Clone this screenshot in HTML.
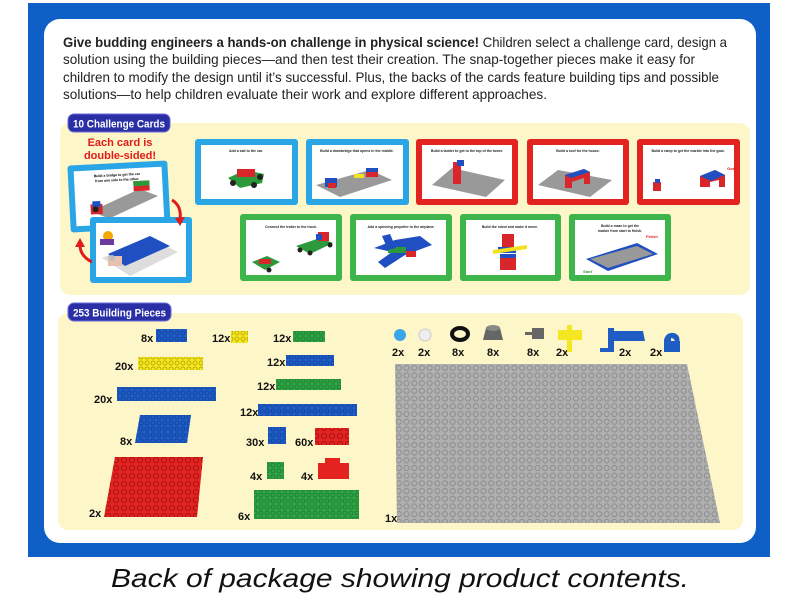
<!DOCTYPE html>
<html><head><meta charset="utf-8"><style>
html,body{margin:0;padding:0;background:#fff;}
svg{display:block;}
text{font-family:"Liberation Sans",sans-serif;}
</style></head><body>
<svg width="800" height="600" viewBox="0 0 800 600" xmlns="http://www.w3.org/2000/svg">
<defs>
<pattern id="stud" width="7.7" height="7.7" patternUnits="userSpaceOnUse" x="395" y="364"><circle cx="3.85" cy="3.85" r="2.6" fill="none" stroke="#8d8d8d" stroke-width="1"/></pattern>
<pattern id="studB" width="6" height="6" patternUnits="userSpaceOnUse"><circle cx="3" cy="3" r="2" fill="none" stroke="#0d3f9a" stroke-width="0.8"/></pattern>
<pattern id="studR" width="8" height="8" patternUnits="userSpaceOnUse"><circle cx="4" cy="4" r="2.6" fill="none" stroke="#a01010" stroke-width="0.9"/></pattern>
<pattern id="studY" width="6" height="6" patternUnits="userSpaceOnUse"><circle cx="3" cy="3" r="2" fill="none" stroke="#b0a000" stroke-width="0.8"/></pattern>
<pattern id="studG" width="6" height="6" patternUnits="userSpaceOnUse"><circle cx="3" cy="3" r="2" fill="none" stroke="#1b7a2b" stroke-width="0.8"/></pattern>
</defs>
<!-- frame -->
<rect x="28" y="3" width="742" height="554" fill="#0e5fc6"/>
<rect x="44" y="19" width="712" height="524" rx="16" fill="#fff"/>
<!-- paragraph -->
<g font-size="14" fill="#222">
<text x="63" y="47" textLength="664" lengthAdjust="spacingAndGlyphs"><tspan font-weight="bold">Give budding engineers a hands-on challenge in physical science!</tspan> Children select a challenge card, design a</text>
<text x="63" y="64" textLength="632" lengthAdjust="spacingAndGlyphs">solution using the building pieces—and then test their creation. The snap-together pieces make it easy for</text>
<text x="63" y="82" textLength="656" lengthAdjust="spacingAndGlyphs">children to modify the design until it’s successful. Plus, the backs of the cards feature building tips and possible</text>
<text x="63" y="99" textLength="484" lengthAdjust="spacingAndGlyphs">solutions—to help children evaluate their work and explore different approaches.</text>
</g>
<!-- panels -->
<rect x="60" y="123" width="690" height="172" rx="10" fill="#fdf6c8"/>
<rect x="58" y="313" width="685" height="217" rx="10" fill="#fdf6c8"/>
<rect x="68" y="114" width="102" height="18" rx="6" fill="#2b2fa6" stroke="#6a6ad8" stroke-width="1"/>
<text x="119" y="127.5" font-size="11" font-weight="bold" fill="#fff" text-anchor="middle" textLength="92" lengthAdjust="spacingAndGlyphs">10 Challenge Cards</text>
<rect x="68" y="303" width="103" height="18" rx="6" fill="#2b2fa6" stroke="#6a6ad8" stroke-width="1"/>
<text x="119.5" y="316.5" font-size="11" font-weight="bold" fill="#fff" text-anchor="middle" textLength="93" lengthAdjust="spacingAndGlyphs">253 Building Pieces</text>
<text x="120" y="146" font-size="11" font-weight="bold" fill="#e01b1b" text-anchor="middle">Each card is</text>
<text x="120" y="159" font-size="11" font-weight="bold" fill="#e01b1b" text-anchor="middle">double-sided!</text>
<!-- cards row1 -->
<g stroke="none">
<rect x="195" y="139" width="103" height="66" rx="3" fill="#2aa6e6"/><rect x="201" y="145" width="91" height="54" fill="#fff"/>
<rect x="306" y="139" width="103" height="66" rx="3" fill="#2aa6e6"/><rect x="312" y="145" width="91" height="54" fill="#fff"/>
<rect x="416" y="139" width="102" height="66" rx="3" fill="#e2231f"/><rect x="422" y="145" width="90" height="54" fill="#fff"/>
<rect x="527" y="139" width="102" height="66" rx="3" fill="#e2231f"/><rect x="533" y="145" width="90" height="54" fill="#fff"/>
<rect x="637" y="139" width="103" height="66" rx="3" fill="#e2231f"/><rect x="643" y="145" width="91" height="54" fill="#fff"/>
<rect x="240" y="214" width="102" height="67" rx="3" fill="#3db54a"/><rect x="246" y="220" width="90" height="55" fill="#fff"/>
<rect x="350" y="214" width="102" height="67" rx="3" fill="#3db54a"/><rect x="356" y="220" width="90" height="55" fill="#fff"/>
<rect x="460" y="214" width="101" height="67" rx="3" fill="#3db54a"/><rect x="466" y="220" width="89" height="55" fill="#fff"/>
<rect x="569" y="214" width="102" height="67" rx="3" fill="#3db54a"/><rect x="575" y="220" width="90" height="55" fill="#fff"/>
</g>
<g font-size="3.5" fill="#222" text-anchor="middle" font-weight="bold">
<text x="246" y="152">Add a sail to the car.</text>
<text x="357" y="152">Build a drawbridge that opens in the middle.</text>
<text x="467" y="152">Build a ladder to get to the top of the tower.</text>
<text x="578" y="152">Build a roof for the house.</text>
<text x="688" y="152">Build a ramp to get the marble into the goal.</text>
<text x="291" y="228">Connect the trailer to the truck.</text>
<text x="401" y="228">Add a spinning propeller to the airplane.</text>
<text x="510" y="228">Build the robot and make it move.</text>
<text x="620" y="227">Build a maze to get the</text>
<text x="620" y="232">marble from start to finish.</text>
</g>
<!-- card illustrations -->
<g>
<path d="M228 178 L245 170 L264 174 L262 183 L240 188 Z" fill="#2c9a3c"/><rect x="237" y="169" width="18" height="8" fill="#d9262b"/>
<circle cx="233" cy="183" r="3" fill="#222"/><circle cx="254" cy="185" r="3" fill="#222"/><circle cx="260" cy="177" r="3" fill="#222"/>
<path d="M316 185 L370 170 L392 180 L340 197 Z" fill="#999"/><rect x="325" y="178" width="12" height="9" fill="#1f4fc0"/><rect x="328" y="183" width="8" height="5" fill="#d9262b"/><rect x="354" y="174" width="10" height="4" fill="#f4e020"/><rect x="366" y="168" width="12" height="9" fill="#d9262b"/><rect x="366" y="168" width="12" height="4" fill="#1f4fc0"/>
<path d="M432 185 L452 168 L505 180 L486 197 Z" fill="#999"/><rect x="453" y="162" width="8" height="22" fill="#d9262b"/><rect x="457" y="160" width="7" height="6" fill="#1f4fc0"/>
<path d="M538 185 L558 170 L612 180 L590 197 Z" fill="#999"/><path d="M565 175 L584 169 L590 172 L590 184 L584 184 L584 178 L572 182 L572 188 L565 188 Z" fill="#d9262b"/><path d="M565 175 L584 169 L590 172 L571 178Z" fill="#1f4fc0"/>
<path d="M700 176 L715 170 L725 175 L725 187 L719 187 L719 180 L710 182 L710 187 L700 187 Z" fill="#d9262b"/><path d="M700 176 L715 170 L725 175 L711 181Z" fill="#1f4fc0"/><rect x="653" y="182" width="8" height="9" fill="#d9262b"/><rect x="655" y="179" width="5" height="4" fill="#1f4fc0"/>
<text x="727" y="170" font-size="4" fill="#e01b1b" font-weight="bold">Goal</text>
<path d="M252 262 L267 256 L280 262 L265 270 Z" fill="#2c9a3c"/><rect x="259" y="259" width="12" height="5" fill="#d9262b"/><circle cx="269" cy="270" r="2.5" fill="#222"/>
<path d="M296 246 L320 238 L333 243 L310 254 Z" fill="#2c9a3c"/><rect x="318" y="232" width="11" height="9" fill="#d9262b"/><rect x="316" y="234" width="6" height="6" fill="#1f4fc0"/><circle cx="300" cy="250" r="2.5" fill="#222"/><circle cx="310" cy="253" r="2.5" fill="#222"/><circle cx="330" cy="245" r="2.5" fill="#222"/>
<path d="M374 248 L395 240 L420 236 L432 245 L405 255 L385 268 L378 262 L392 252 Z" fill="#1f4fc0"/><rect x="388" y="247" width="18" height="6" fill="#2c9a3c"/><rect x="406" y="251" width="10" height="6" fill="#d9262b"/><path d="M382 236 L390 234 L396 248 L388 250Z" fill="#1f4fc0"/>
<rect x="502" y="234" width="12" height="13" fill="#d9262b"/><rect x="498" y="247" width="18" height="6" fill="#1f4fc0"/><path d="M493 250 L527 245 L527 249 L493 254Z" fill="#f4e020"/><rect x="500" y="254" width="16" height="16" fill="#d9262b"/><rect x="500" y="254" width="16" height="4" fill="#1f4fc0"/>
<path d="M586 259 L637 243 L658 254 L608 271 Z" fill="#1f4fc0"/><path d="M590 259 L637 246 L653 254 L608 268 Z" fill="#999"/>
<text x="646" y="238" font-size="4" fill="#e01b1b" font-weight="bold">Finish</text><text x="583" y="273" font-size="4" fill="#2c9a3c" font-weight="bold">Start</text>
</g>
<!-- double sided cards -->
<g transform="rotate(-3 119 196)">
<rect x="69" y="163" width="100" height="67" rx="3" fill="#2aa6e6"/><rect x="75" y="169" width="88" height="55" fill="#fff"/>
<path d="M90 210 L140 190 L158 198 L108 218 Z" fill="#999"/><rect x="134" y="182" width="16" height="10" fill="#d9262b"/><rect x="134" y="182" width="16" height="5" fill="#2c9a3c"/><rect x="90" y="203" width="12" height="10" fill="#d9262b"/><rect x="92" y="200" width="8" height="6" fill="#1f4fc0"/><circle cx="95" cy="208" r="3" fill="#222"/>
<text x="118" y="176" font-size="3.5" text-anchor="middle" font-weight="bold">Build a bridge to get the car</text>
<text x="118" y="181" font-size="3.5" text-anchor="middle" font-weight="bold">from one side to the other.</text>
</g>
<rect x="90" y="217" width="102" height="66" rx="3" fill="#2aa6e6"/><rect x="96" y="223" width="90" height="54" fill="#fff"/>
<path d="M102 258 L150 238 L178 252 L130 276 Z" fill="#ddd"/><path d="M108 254 L150 236 L170 246 L125 266 Z" fill="#1f4fc0"/><rect x="108" y="256" width="14" height="10" fill="#e8c0b0"/><circle cx="112" cy="258" r="3" fill="#bbb"/>
<circle cx="108" cy="236" r="5" fill="#f5a800"/><rect x="100" y="239" width="14" height="6" fill="#6a3aa0"/>
<path d="M172 200 Q182 206 180 220" fill="none" stroke="#e01b1b" stroke-width="3"/><path d="M175 218 L180 226 L185 217 Z" fill="#e01b1b"/>
<path d="M92 262 Q80 256 80 245" fill="none" stroke="#e01b1b" stroke-width="3"/><path d="M75 247 L80 238 L85 247 Z" fill="#e01b1b"/>

<!-- pieces left -->
<g font-size="11" font-weight="bold" fill="#111">
<text x="141" y="342">8x</text><text x="212" y="342">12x</text><text x="273" y="342">12x</text>
<text x="115" y="370">20x</text><text x="267" y="366">12x</text>
<text x="94" y="403">20x</text><text x="257" y="390">12x</text>
<text x="120" y="445">8x</text><text x="240" y="416">12x</text>
<text x="246" y="446">30x</text><text x="295" y="446">60x</text>
<text x="250" y="480">4x</text><text x="301" y="480">4x</text>
<text x="89" y="517">2x</text><text x="238" y="520">6x</text>
<text x="385" y="522">1x</text>
<text x="392" y="356">2x</text><text x="418" y="356">2x</text><text x="452" y="356">8x</text><text x="487" y="356">8x</text><text x="527" y="356">8x</text><text x="556" y="356">2x</text><text x="619" y="356">2x</text><text x="650" y="356">2x</text>
</g>
<g>
<rect x="156" y="329" width="31" height="13" fill="#1f5cc4"/><rect x="156" y="329" width="31" height="13" fill="url(#studB)"/>
<rect x="231" y="331" width="17" height="12" fill="#f4e620"/><rect x="231" y="331" width="17" height="12" fill="url(#studY)"/>
<rect x="293" y="331" width="32" height="11" fill="#2fa245"/><rect x="293" y="331" width="32" height="11" fill="url(#studG)"/>
<rect x="138" y="357" width="65" height="13" fill="#f4e620"/><rect x="138" y="357" width="65" height="13" fill="url(#studY)"/>
<rect x="286" y="355" width="48" height="11" fill="#1f5cc4"/><rect x="286" y="355" width="48" height="11" fill="url(#studB)"/>
<rect x="117" y="387" width="99" height="14" fill="#1f5cc4"/><rect x="117" y="387" width="99" height="14" fill="url(#studB)"/>
<rect x="276" y="379" width="65" height="11" fill="#2fa245"/><rect x="276" y="379" width="65" height="11" fill="url(#studG)"/>
<path d="M140 415 L191 415 L187 443 L135 443 Z" fill="#1f5cc4"/><path d="M140 415 L191 415 L187 443 L135 443 Z" fill="url(#studB)"/>
<rect x="258" y="404" width="99" height="12" fill="#1f5cc4"/><rect x="258" y="404" width="99" height="12" fill="url(#studB)"/>
<rect x="268" y="427" width="18" height="17" fill="#1f5cc4"/><rect x="268" y="427" width="18" height="17" fill="url(#studB)"/>
<rect x="315" y="428" width="34" height="17" fill="#e2231f"/><rect x="315" y="428" width="34" height="17" fill="url(#studR)"/>
<path d="M115 457 L203 457 L197 517 L104 517 Z" fill="#e2231f"/><path d="M115 457 L203 457 L197 517 L104 517 Z" fill="url(#studR)"/>
<rect x="267" y="462" width="17" height="17" fill="#2fa245"/><rect x="267" y="462" width="17" height="17" fill="url(#studG)"/>
<path d="M318 463 L325 463 L325 458 L340 458 L340 463 L349 463 L349 479 L318 479 Z" fill="#e2231f"/>
<rect x="254" y="490" width="105" height="29" fill="#2fa245"/><rect x="254" y="490" width="105" height="29" fill="url(#studG)"/>
</g>
<!-- small items -->
<circle cx="400" cy="335" r="6" fill="#3aa6e8"/><circle cx="425" cy="335" r="6" fill="#eee" stroke="#ccc"/>
<ellipse cx="460" cy="334" rx="8" ry="6" fill="none" stroke="#111" stroke-width="4"/>
<path d="M486 328 L500 328 L503 340 L483 340 Z" fill="#666"/><ellipse cx="493" cy="328" rx="7" ry="3" fill="#888"/>
<rect x="532" y="328" width="12" height="11" fill="#666"/><rect x="525" y="332" width="7" height="3" fill="#666"/>
<path d="M558 330 L567 330 L567 325 L572 325 L572 330 L582 330 L582 340 L572 340 L572 352 L567 352 L567 340 L558 340 Z" fill="#f4e620"/>
<path d="M608 328 L614 328 L614 331 L643 331 L645 341 L614 341 L614 352 L600 352 L600 348 L608 348 Z" fill="#1f5cc4"/>
<path d="M664 352 L664 340 Q666 332 674 333 Q681 335 679 343 L675 343 Q675 338 671 338 L671 341 L680 341 L680 352 Z" fill="#1f5cc4"/>
<!-- baseplate -->
<path d="M395 364 L687 364 L720 523 L397 523 Z" fill="#b0b0b0"/>
<path d="M395 364 L687 364 L720 523 L397 523 Z" fill="url(#stud)"/>
<!-- caption -->
<text x="400" y="587" font-size="26" font-style="italic" fill="#111" text-anchor="middle" textLength="578" lengthAdjust="spacingAndGlyphs">Back of package showing product contents.</text>
</svg>
</body></html>
